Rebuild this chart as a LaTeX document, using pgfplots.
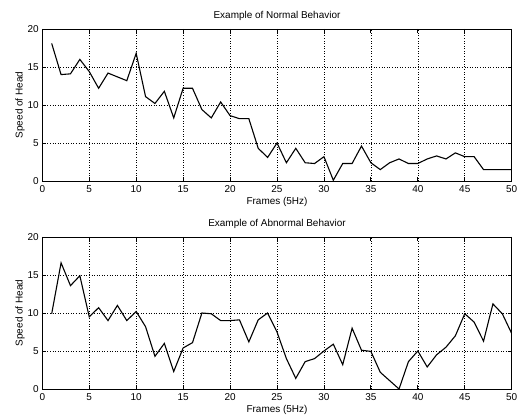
\documentclass[border=0pt]{standalone}
\usepackage{fontspec}
\setmainfont{Liberation Sans}
\usepackage{pgfplots}
\pgfplotsset{compat=1.18}

% speed of head, frames 1..50
\pgfplotstableread{
x y
1 18.1
2 14.0
3 14.1
4 16.0
5 14.4
6 12.2
7 14.2
8 13.7
9 13.2
10 16.8
11 11.1
12 10.2
13 11.8
14 8.3
15 12.2
16 12.2
17 9.4
18 8.3
19 10.4
20 8.6
21 8.2
22 8.2
23 4.3
24 3.1
25 5.0
26 2.4
27 4.3
28 2.4
29 2.3
30 3.2
31 0.1
32 2.3
33 2.3
34 4.6
35 2.4
36 1.5
37 2.4
38 2.9
39 2.3
40 2.3
41 2.9
42 3.3
43 2.9
44 3.7
45 3.2
46 3.2
47 1.5
48 1.5
49 1.5
50 1.5
}\normal

\pgfplotstableread{
x y
1 9.9
2 16.6
3 13.6
4 14.9
5 9.5
6 10.7
7 9.0
8 11.0
9 9.0
10 10.2
11 8.2
12 4.3
13 6.0
14 2.3
15 5.4
16 6.1
17 10.0
18 9.9
19 9.0
20 9.0
21 9.1
22 6.2
23 9.1
24 10.0
25 7.5
26 4.0
27 1.4
28 3.6
29 4.0
30 5.0
31 5.9
32 3.2
33 8.0
34 5.1
35 4.95
36 2.2
37 1.1
38 0.0
39 3.6
40 5.0
41 2.9
42 4.5
43 5.5
44 7.0
45 9.9
46 8.8
47 6.3
48 11.2
49 9.9
50 7.3
}\abnormal

\pgfplotsset{
  every axis title/.style={at={(0.5,1)}, anchor=center, yshift=13.5bp},
  every axis x label/.style={at={(axis description cs:0.5,0)}, anchor=center, yshift=-21bp},
  every axis y label/.style={at={(axis description cs:-0.0475,0.5)}, anchor=center, rotate=90},
  mlab/.style={
    scale only axis, width=469.4bp, height=152bp,
    anchor=south west,
    xmin=0, xmax=50, ymin=0, ymax=20,
    xtick={0,5,...,50}, ytick={0,5,...,20},
    tick align=inside, major tick length=4bp,
    xmajorgrids, ymajorgrids,
    grid style={black, line width=0.6pt, dotted},
    axis line style={line width=0.8pt},
    every tick/.style={black, line width=0.8pt},
    /pgf/number format/assume math mode=true,
    tick label style={font=\fontsize{10}{12}\selectfont},
    xticklabel style={yshift=-1.5bp},
    label style={font=\fontsize{10}{12}\selectfont},
    title style={font=\fontsize{10}{12}\selectfont},
    xlabel={Frames (5Hz)},
    ylabel={Speed of Head},
  }
}

\begin{document}
\begin{tikzpicture}
\path[use as bounding box] (0,0) rectangle (519bp,416bp);

\begin{axis}[mlab, at={(42.3bp,235bp)}, title={Example of Normal Behavior}]
\addplot[black, line width=1.1pt] table[x=x, y=y] {\normal};
\end{axis}

\begin{axis}[mlab, at={(42.3bp,27bp)}, title={Example of Abnormal Behavior}]
\addplot[black, line width=1.1pt] table[x=x, y=y] {\abnormal};
\end{axis}
\end{tikzpicture}
\end{document}
